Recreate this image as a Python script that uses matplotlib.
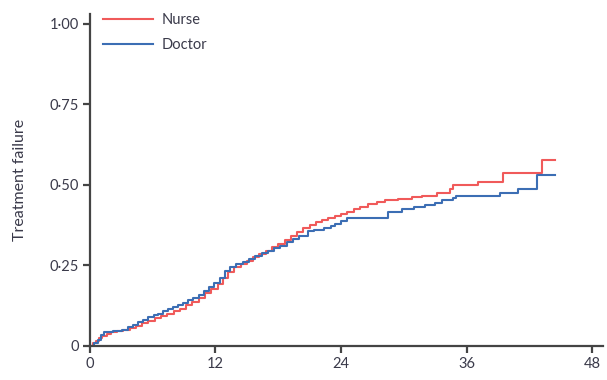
import matplotlib
matplotlib.use("Agg")
import matplotlib.pyplot as plt

plt.rcParams['font.family'] = ['Lato', 'DejaVu Sans']

# Kaplan-Meier style cumulative treatment failure (months)
nurse_t = [0, 0.3, 0.6, 0.9, 1.2, 1.6, 2.0, 2.6, 3.2, 3.8, 4.4, 5.0, 5.6, 6.2,
           6.8, 7.4, 8.0, 8.6, 9.2, 9.8, 10.4, 11.0, 11.6, 12.2, 12.7, 13.2,
           13.8, 14.4, 15.0, 15.6, 16.2, 16.8, 17.4, 18.0, 18.6, 19.2, 19.8,
           20.4, 21.0, 21.6, 22.2, 22.8, 23.4, 24.0, 24.6, 25.2, 25.8, 26.6,
           27.4, 28.2, 29.4, 30.8, 31.7, 33.2, 34.4, 34.7, 37.1, 39.5, 43.2, 44.4]
nurse_v = [0, 0.008, 0.016, 0.024, 0.032, 0.038, 0.042, 0.046, 0.05, 0.056,
           0.062, 0.07, 0.078, 0.086, 0.094, 0.10, 0.108, 0.116, 0.126, 0.138,
           0.150, 0.164, 0.178, 0.194, 0.212, 0.230, 0.244, 0.255, 0.265, 0.276,
           0.286, 0.296, 0.306, 0.318, 0.330, 0.342, 0.354, 0.366, 0.376, 0.384,
           0.392, 0.398, 0.404, 0.410, 0.416, 0.424, 0.432, 0.440, 0.446, 0.452,
           0.456, 0.462, 0.466, 0.474, 0.488, 0.500, 0.510, 0.537, 0.578, 0.578]

doctor_t = [0, 0.4, 0.8, 1.1, 1.4, 2.2, 3.1, 3.6, 4.1, 4.6, 5.1, 5.6, 6.1, 6.5,
            7.0, 7.5, 7.9, 8.4, 8.9, 9.4, 9.9, 10.4, 10.9, 11.4, 11.9, 12.4,
            12.9, 13.4, 14.0, 14.6, 15.2, 15.8, 16.4, 17.0, 17.6, 18.2, 18.8,
            19.4, 20.0, 20.8, 21.4, 22.4, 23.0, 23.4, 24.0, 24.6, 28.5, 29.8,
            31.0, 32.0, 33.0, 33.6, 34.7, 35.0, 39.2, 40.9, 42.7, 44.4]
doctor_v = [0, 0.008, 0.018, 0.034, 0.043, 0.046, 0.05, 0.058, 0.066, 0.075,
            0.082, 0.09, 0.096, 0.10, 0.108, 0.114, 0.12, 0.126, 0.134, 0.142,
            0.15, 0.158, 0.17, 0.182, 0.196, 0.212, 0.232, 0.244, 0.254, 0.262,
            0.27, 0.278, 0.288, 0.296, 0.304, 0.312, 0.322, 0.332, 0.342, 0.356,
            0.36, 0.366, 0.372, 0.38, 0.388, 0.397, 0.416, 0.425, 0.432, 0.438,
            0.444, 0.453, 0.458, 0.465, 0.475, 0.487, 0.53, 0.53]

x_ticks = [0, 12, 24, 36, 48]
y_ticks = [0, 0.25, 0.50, 0.75, 1.00]
y_tick_labels = ['0', '0·25', '0·50', '0·75', '1·00']

text_color = '#3a3a4a'
spine_color = '#444444'

fig = plt.figure(figsize=(6.07, 3.80), dpi=100)
ax = fig.add_axes([0.148, 0.0895, 0.845, 0.873])

ax.plot(nurse_t, nurse_v, drawstyle='steps-post', color='#f05a5a', lw=1.5, label='Nurse')
ax.plot(doctor_t, doctor_v, drawstyle='steps-post', color='#3c6eb4', lw=1.5, label='Doctor')

ax.set_xlim(0, 49)
ax.set_ylim(0, 1.03)
ax.set_xticks(x_ticks)
ax.set_xticklabels([str(t) for t in x_ticks])
ax.set_yticks(y_ticks)
ax.set_yticklabels(y_tick_labels)

for side in ('top', 'right'):
    ax.spines[side].set_visible(False)
for side in ('left', 'bottom'):
    ax.spines[side].set_color(spine_color)
    ax.spines[side].set_linewidth(1.6)

ax.tick_params(axis='both', direction='out', length=5, width=1.6, color=spine_color,
               labelsize=10.5, labelcolor=text_color, pad=3)

ax.set_ylabel('Treatment failure', fontsize=11.5, color=text_color, labelpad=16)

leg = ax.legend(loc='upper left', bbox_to_anchor=(0.015, 1.022), frameon=False,
                fontsize=10.5, handlelength=3.4, handletextpad=0.6, labelspacing=0.75,
                borderaxespad=0)
for txt in leg.get_texts():
    txt.set_color(text_color)

fig.savefig('out.png', dpi=100)
